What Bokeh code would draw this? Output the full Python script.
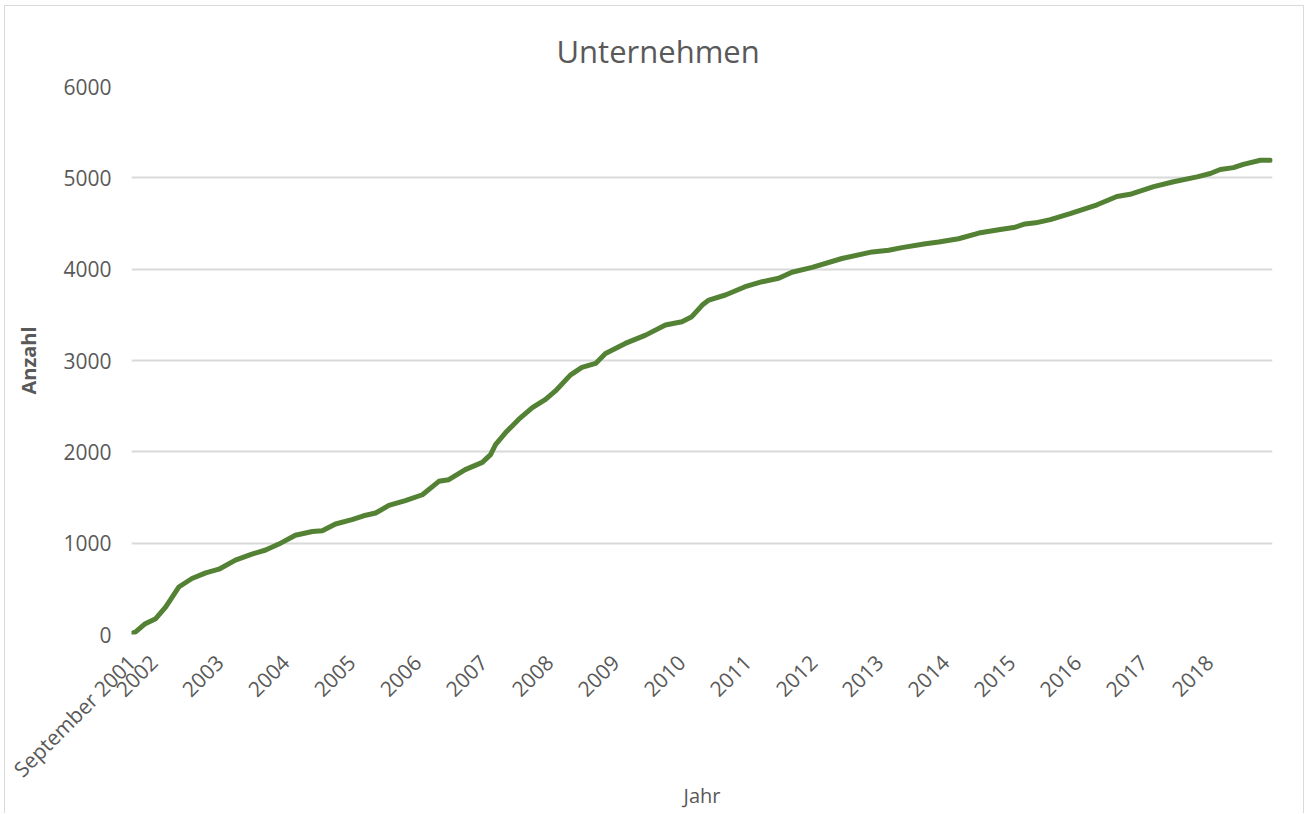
import math
from bokeh.plotting import figure
from bokeh.models import FixedTicker
from bokeh.embed import file_html
from bokeh.resources import INLINE

# Months since September 2001
monate = [0, 0.7, 2.5, 4.4, 6.2, 7.4, 8.6, 11, 13.5, 15.9, 18.9, 21.9, 24.4, 26.8,
          29.8, 32.9, 34.7, 37.1, 40.1, 42.2, 44.4, 46.8, 49.8, 52.9, 55.9, 57.7,
          60.7, 63.8, 65.3, 66.2, 68, 70.4, 72.9, 75.3, 77.1, 79.8, 81.9, 84.4,
          86.2, 89.8, 93.5, 97.1, 100.1, 101.9, 103.8, 105, 108, 111.6, 114.7,
          117.7, 120.1, 123.8, 129.2, 134.7, 137.7, 140.1, 144.4, 146.8, 150.4,
          154.1, 157.7, 160.7, 162.5, 164.4, 167.1, 170.7, 175.6, 179.2, 181.6,
          185.9, 189.5, 193.8, 196.2, 198, 200.4, 202.2, 205.3, 207.1]
anzahl = [10, 25, 118, 173, 300, 410, 520, 613, 675, 715, 815, 880, 925, 990,
          1087, 1127, 1135, 1210, 1257, 1300, 1330, 1413, 1465, 1530, 1677, 1695,
          1805, 1885, 1970, 2080, 2208, 2355, 2483, 2575, 2667, 2840, 2925, 2968,
          3077, 3187, 3278, 3388, 3425, 3480, 3607, 3662, 3717, 3808, 3863,
          3900, 3966, 4020, 4117, 4189, 4207, 4236, 4279, 4297, 4333,
          4395, 4431, 4459, 4495, 4507, 4542, 4607, 4705, 4795, 4820,
          4903, 4957, 5011, 5047, 5091, 5112, 5148, 5192, 5192]

x_labels = ["September 2001"] + [str(y) for y in range(2002, 2019)]
x_label_months = [0] + [(y - 2002) * 12 + 4 for y in range(2002, 2019)]
y_ticks = [0, 1000, 2000, 3000, 4000, 5000, 6000]

TEXT = "#595959"
FONT = "Open Sans"

p = figure(width=1300, height=808, x_range=(0, 207.5), y_range=(0, 6000),
           output_backend="svg", toolbar_location=None,
           min_border_left=126, min_border_right=33,
           min_border_top=80, min_border_bottom=180)
p.styles = {"margin-left": "4px", "margin-top": "5px",
            "border-left": "1px solid #d9d9d9",
            "border-top": "1px solid #d9d9d9",
            "border-right": "1px solid #d9d9d9"}
p.outline_line_color = None
p.background_fill_color = "white"
p.border_fill_color = "white"

p.line(monate, anzahl, line_color="#548235", line_width=5,
       line_cap="round", line_join="round")

p.title.text = "Unternehmen"
p.title.align = "left"
p.title.offset = 425
p.title.text_font = FONT
p.title.text_font_size = "31px"
p.title.text_font_style = "normal"
p.title.text_color = TEXT
p.title.standoff = 30

p.xgrid.visible = False
p.ygrid.grid_line_color = "#d9d9d9"
p.ygrid.grid_line_width = 2

xa = p.xaxis[0]
xa.ticker = FixedTicker(ticks=x_label_months)
xa.major_label_overrides = {m: lab for m, lab in zip(x_label_months, x_labels)}
xa.major_label_orientation = math.pi / 4
xa.axis_line_color = None
xa.major_tick_line_color = None
xa.minor_tick_line_color = None
xa.major_label_text_font = FONT
xa.major_label_text_font_size = "21px"
xa.major_label_text_color = TEXT
xa.major_label_standoff = 18
xa.axis_label = "Jahr"
xa.axis_label_text_font = FONT
xa.axis_label_text_font_size = "20px"
xa.axis_label_text_font_style = "normal"
xa.axis_label_text_color = TEXT
xa.axis_label_standoff = -14

ya = p.yaxis[0]
ya.ticker = FixedTicker(ticks=y_ticks)
ya.axis_line_color = None
ya.major_tick_line_color = None
ya.minor_tick_line_color = None
ya.major_label_text_font = FONT
ya.major_label_text_font_size = "21px"
ya.major_label_text_color = TEXT
ya.major_label_standoff = 14
ya.axis_label = "Anzahl"
ya.axis_label_text_font = FONT
ya.axis_label_text_font_size = "20px"
ya.axis_label_text_font_style = "bold"
ya.axis_label_text_color = TEXT
ya.axis_label_standoff = 18

open("out.html", "w").write(file_html(p, INLINE))
